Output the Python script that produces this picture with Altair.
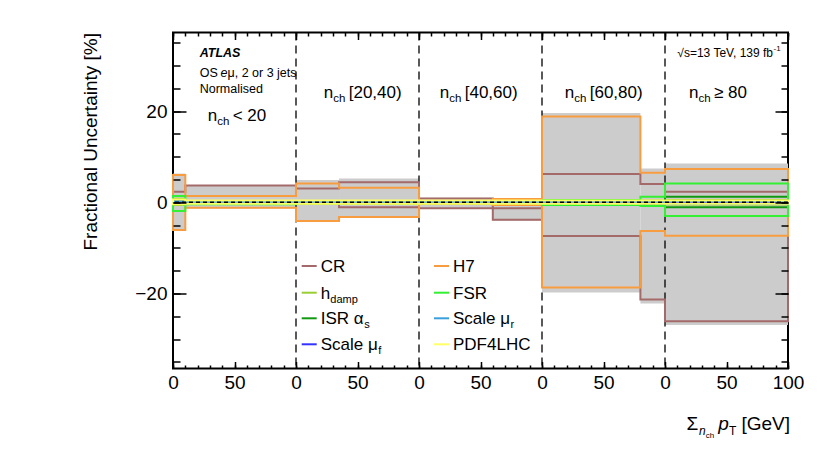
import altair as alt
import pandas as pd

# ---------------- data (combined x: panel*100 + local sum pT) ----------------
bin_lo = [0, 10, 100, 135, 200, 260, 300, 380, 400]
bin_hi = [10, 100, 135, 200, 260, 300, 380, 400, 500]
panel_edges = [100, 200, 300, 400]
x_ticks_major = [0, 50, 100, 150, 200, 250, 300, 350, 400, 450, 500]

band_up = [6.3, 3.8, 4.9, 5.2, 1.0, 0.8, 19.6, 7.4, 8.5]
band_dn = [-6.3, -1.35, -4.2, -3.3, -1.4, -4.0, -19.8, -22.2, -26.9]

cr_a = [2.3, 3.7, 3.0, 4.4, 0.85, -1.3, 6.2, 4.0, 2.3]
cr_b = [0.3, 0.2, 0.2, -1.1, -1.3, -3.8, -7.4, -21.3, -26.1]
hdamp_up = [0.8, 0.3, 0.3, 0.3, 0.3, 0.3, 0.4, 0.4, 0.5]
hdamp_dn = [-0.6, -0.3, -0.3, -0.3, -0.3, -0.3, -0.4, -0.4, -0.5]
isr_up = [0.3, 0.1, 0.1, 0.1, 0.1, 0.1, 0.2, 0.3, 1.2]
isr_dn = [-0.3, -0.1, -0.1, -0.1, -0.1, -0.1, -0.2, -0.3, -1.1]
muf_up = [0.2, 0.1, 0.1, 0.1, 0.1, 0.1, 0.1, 0.2, 0.2]
muf_dn = [-0.2, -0.1, -0.1, -0.1, -0.1, -0.1, -0.1, -0.2, -0.2]
h7_up = [6.0, 1.4, 4.1, 3.2, 0.3, 0.7, 18.8, 6.5, 7.3]
h7_dn = [-6.1, -1.2, -4.1, -3.2, -0.3, -0.6, -18.7, -6.3, -7.35]
fsr_up = [1.4, 0.3, 0.2, 0.2, 0.2, 0.2, 0.5, 1.2, 4.1]
fsr_dn = [-1.9, -0.4, -0.2, -0.2, -0.2, -0.2, -0.6, -0.8, -3.0]
mur_up = [0.2, 0.1, 0.1, 0.1, 0.1, 0.1, 0.2, 0.2, 0.3]
mur_dn = [-0.2, -0.1, -0.1, -0.1, -0.1, -0.1, -0.2, -0.2, -0.3]
pdf_up = [0.6, 0.4, 0.4, 0.4, 0.4, 0.4, 0.4, 0.4, 0.4]
pdf_dn = [-0.4, -0.3, -0.3, -0.3, -0.3, -0.3, -0.3, -0.3, -0.3]

systematics = [
    ("CR", "#a46a6a", cr_a, cr_b),
    ("hdamp", "#9acd32", hdamp_up, hdamp_dn),
    ("ISR", "#119911", isr_up, isr_dn),
    ("muf", "#3333ff", muf_up, muf_dn),
    ("H7", "#f89c40", h7_up, h7_dn),
    ("FSR", "#33f033", fsr_up, fsr_dn),
    ("mur", "#3a9fdc", mur_up, mur_dn),
    ("PDF", "#ffff66", pdf_up, pdf_dn),
]

X_MAX = 500
FONT = "Liberation Sans"
W, H = 615, 336

xs = alt.Scale(domain=[0, X_MAX], nice=False, zero=False)
ys = alt.Scale(domain=[-36.45, 37.24], nice=False, zero=False)


def steps(vals, name):
    px, py = [0], [0]
    for lo, hi, v in zip(bin_lo, bin_hi, vals):
        px += [lo, hi]
        py += [v, v]
    px.append(X_MAX)
    py.append(0)
    return pd.DataFrame({"x": px, "y": py, "var": name, "i": range(len(px))})


band_df = pd.DataFrame({"lo": bin_lo, "hi": bin_hi, "up": band_up, "dn": band_dn})
dummy = pd.DataFrame({"t": [0]})

common_ax = dict(domain=False, grid=False, labelFlush=False, labelOverlap=False,
                 tickColor="black", tickWidth=1.5, labelFont=FONT, labelFontSize=19,
                 labelColor="black", title=None, zindex=1)

x_major = alt.Axis(orient="bottom", values=x_ticks_major, tickSize=7, offset=-7,
                   labelPadding=5,
                   labelExpr="datum.value == 500 ? '100' : format(datum.value % 100, 'd')",
                   **common_ax)
x_minor = alt.Axis(orient="bottom", values=list(range(0, 501, 10)), tickSize=3.5,
                   offset=-3.5, labels=False, **common_ax)
x_top_major = alt.Axis(orient="top", values=x_ticks_major, tickSize=7, offset=-7,
                       labels=False, **common_ax)
x_top_minor = alt.Axis(orient="top", values=list(range(0, 501, 10)), tickSize=3.5,
                       offset=-3.5, labels=False, **common_ax)
y_major = alt.Axis(orient="left", values=[-20, 0, 20], tickSize=13, offset=-13,
                   labelPadding=6, **common_ax)
y_minor = alt.Axis(orient="left", values=list(range(-35, 36, 5)), tickSize=7,
                   offset=-7, labels=False, **common_ax)
y_right_major = alt.Axis(orient="right", values=[-20, 0, 20], tickSize=13, offset=-13,
                         labels=False, **common_ax)
y_right_minor = alt.Axis(orient="right", values=list(range(-35, 36, 5)), tickSize=7,
                         offset=-7, labels=False, **common_ax)

layers = []

# total uncertainty band
layers.append(
    alt.Chart(band_df).mark_rect(color="#cccccc").encode(
        x=alt.X("lo:Q", scale=xs, axis=x_major), x2="hi:Q",
        y=alt.Y("dn:Q", scale=ys, axis=y_major), y2="up:Q")
)
# tick-only layers
for ax_x, ax_y in [(x_minor, y_minor), (x_top_major, y_right_major), (x_top_minor, y_right_minor)]:
    layers.append(
        alt.Chart(band_df).mark_point(opacity=0).encode(
            x=alt.X("lo:Q", scale=xs, axis=ax_x),
            y=alt.Y("dn:Q", scale=ys, axis=ax_y))
    )

# panel separators
layers.append(
    alt.Chart(pd.DataFrame({"e": panel_edges})).mark_rule(
        color="black", strokeWidth=1.3, strokeDash=[8, 5]).encode(
        x=alt.X("e:Q", scale=xs, axis=None))
)

# systematic step lines
for name, col, up, dn in systematics:
    df = pd.concat([steps(up, name + "_up"), steps(dn, name + "_dn")])
    layers.append(
        alt.Chart(df).mark_line(color=col, strokeWidth=2, interpolate="linear").encode(
            x=alt.X("x:Q", scale=xs, axis=None),
            y=alt.Y("y:Q", scale=ys, axis=None),
            detail="var:N", order="i:Q")
    )

# zero line
layers.append(
    alt.Chart(dummy).mark_rule(color="black", strokeWidth=1.5, strokeDash=[4, 3]).encode(
        y=alt.datum(0, scale=ys, axis=None))
)


def txt(s, x, y, size, **kw):
    opts = dict(align="left", baseline="alphabetic", font=FONT, fontSize=size, color="black")
    opts.update(kw)
    return alt.Chart(dummy).mark_text(text=s, **opts).encode(x=alt.value(x), y=alt.value(y))


# ATLAS labels
layers += [
    txt("ATLAS", 26.7, 24.2, 12.5, fontStyle="italic", fontWeight="bold"),
    txt("OS ", 26.7, 44.2, 12.5),
    txt("e", 47.5, 44.2, 12.5, fontStyle="italic"),
    txt("μ, 2 or 3 jets", 54.5, 44.2, 12.5),
    txt("Normalised", 26.7, 60.2, 12.5),
    txt("√s=13 TeV, 139 fb", 600, 24.2, 12, align="right"),
    txt("-1", 600.5, 18.5, 8),
]

# n_ch region labels
for x0, y0, rest in [(34.7, 88.2, "< 20"), (150.7, 65.8, "[20,40)"), (266.7, 65.8, "[40,60)"),
                     (391.7, 65.8, "[60,80)"), (516, 65.8, "≥ 80")]:
    layers += [
        txt("n", x0, y0, 17),
        txt("ch", x0 + 9.5, y0 + 4, 11.5),
        txt(rest, x0 + 25, y0, 17),
    ]

# legend
legend_rows = [
    ("#a46a6a", 128.7, 233.5, "CR", None, 0),
    ("#9acd32", 128.7, 260.2, "h", "damp", 9.6),
    ("#119911", 128.7, 285.8, "ISR α", "s", 43.5),
    ("#3333ff", 128.7, 311.8, "Scale μ", "f", 57.5),
    ("#f89c40", 261.0, 233.5, "H7", None, 0),
    ("#33f033", 261.0, 260.2, "FSR", None, 0),
    ("#3a9fdc", 261.0, 285.8, "Scale μ", "r", 57.5),
    ("#ffff66", 261.0, 311.8, "PDF4LHC", None, 0),
]
for col, lx, ly, lab, sub, subdx in legend_rows:
    layers.append(
        alt.Chart(dummy).mark_rule(color=col, strokeWidth=2).encode(
            x=alt.value(lx), x2=alt.value(lx + 15), y=alt.value(ly))
    )
    layers.append(txt(lab, lx + 19, ly + 6, 17))
    if sub:
        layers.append(txt(sub, lx + 19 + subdx, ly + 10, 11))

# y title
layers.append(txt("Fractional Uncertainty [%]", -76, 0.5, 19, angle=270, align="right"))

# x title: Sum_{n_ch} p_T [GeV]
xb, yb = 513.5, 397.5
layers += [
    txt("Σ", xb, yb, 19),
    txt("n", xb + 12.5, yb + 5, 12, fontStyle="italic"),
    txt("ch", xb + 19.3, yb + 8, 8),
    txt("p", xb + 31.8, yb, 19, fontStyle="italic"),
    txt("T", xb + 42.4, yb + 5, 12),
    txt("[GeV]", xb + 54.9, yb, 19),
]

chart = alt.layer(*layers).resolve_axis(x="independent", y="independent").properties(
    width=W, height=H,
    padding={"left": 165, "top": 24.5, "right": 30, "bottom": 70},
    autosize=alt.AutoSizeParams(type="none"),
).configure_view(stroke="black", strokeWidth=2)

chart.save("out.html", embed_options={"renderer": "svg", "actions": False})
